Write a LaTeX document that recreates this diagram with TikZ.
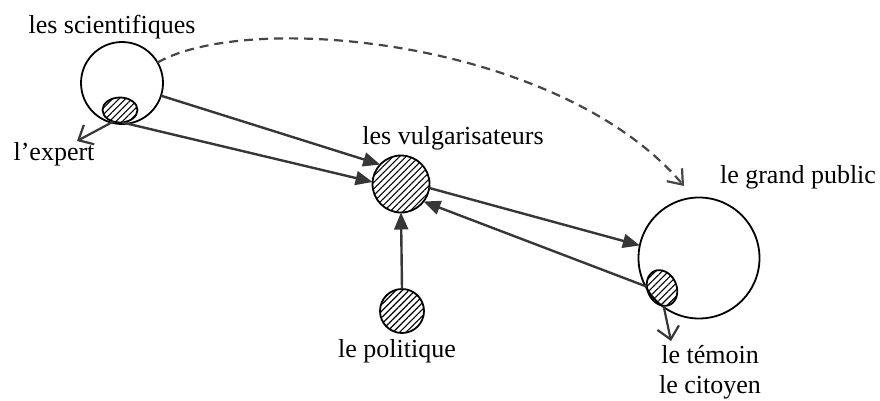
\documentclass[tikz,border=0pt]{standalone}
\usepackage{fontspec}
\setmainfont{Liberation Serif}
\usetikzlibrary{arrows.meta,patterns.meta,shapes.geometric}
\definecolor{conn}{RGB}{55,55,55}
\definecolor{dashc}{RGB}{70,70,70}
\tikzset{
  bigcirc/.style={circle,draw=black,line width=1.8pt,inner sep=0pt,outer sep=0pt},
  hatch/.style={draw=black,line width=1.8pt,inner sep=0pt,outer sep=0pt,
    pattern={Lines[angle=45,distance=4.6pt,line width=1.1pt]}},
  lbl/.style={font=\fontsize{26}{30}\selectfont,inner sep=0pt,anchor=base},
  solidarr/.style={draw=conn,line width=2.4pt,-{Triangle[length=17pt,width=14pt]}},
  openarr/.style={draw=conn,line width=2.2pt,-{Straight Barb[length=12pt,width=22pt]}},
  dasharr/.style={draw=dashc,line width=2.2pt,dash pattern=on 9pt off 6pt,
    -{Straight Barb[length=13pt,width=20pt]}}
}
\begin{document}
\begin{tikzpicture}[x=1pt,y=-1pt]
\useasboundingbox (0,0) rectangle (880,400);
% circles
\node[bigcirc,minimum size=82pt] (sci) at (122,83) {};
\node[hatch,ellipse,minimum width=35pt,minimum height=25pt] (exp) at (120,110) {};
\node[hatch,circle,minimum size=57pt] (vulg) at (401,184) {};
\node[bigcirc,minimum size=121pt] (gp) at (699,258) {};
\node[hatch,ellipse,minimum width=29pt,minimum height=37pt,rotate=25] (tem) at (662,288) {};
\node[hatch,circle,minimum size=44pt] (pol) at (402,311) {};
% labels
\node[lbl] (lsci) at (112,33) {les scientifiques};
\node[lbl] (lexp) at (54,160) {l’expert};
\node[lbl] (lvulg) at (453,144) {les vulgarisateurs};
\node[lbl] (lgp) at (798,183) {le grand public};
\node[lbl] (ltem) at (710,363) {le témoin};
\node[lbl] (lcit) at (710,393) {le citoyen};
\node[lbl] (lpol) at (397,357) {le politique};
% free ends
\coordinate (expend) at (77,141);
\coordinate (temend) at (671,341);
\coordinate (dashend) at (684,186);
% connectors
\draw[solidarr] (sci.-18) -- (vulg.137);
\draw[solidarr] (exp.-80) -- (vulg.176);
\draw[solidarr] (vulg.-8) -- (gp.168);
\draw[solidarr] (tem.150) -- (vulg.-38);
\draw[solidarr] (pol.north) -- (vulg.south);
\draw[openarr] (exp.-120) -- (expend);
\draw[openarr] (tem.-110) -- (temend);
\draw[dasharr] (sci.30) .. controls (250,10) and (560,40) .. (dashend);
\end{tikzpicture}
\end{document}
